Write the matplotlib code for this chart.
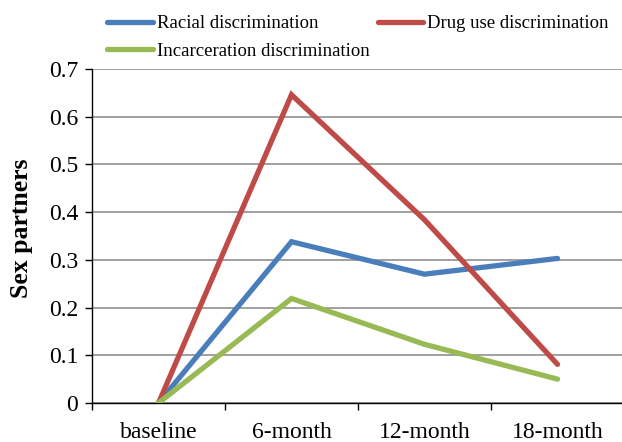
import matplotlib
matplotlib.use("Agg")
import matplotlib.pyplot as plt
from matplotlib.ticker import FixedLocator

# time points and mean change in sex partners per discrimination type
timepoints = ["baseline", "6-month", "12-month", "18-month"]
racial = [0.0, 0.338, 0.270, 0.303]
drug_use = [0.0, 0.646, 0.384, 0.081]
incarceration = [0.0, 0.219, 0.123, 0.050]

series_names = ["Racial discrimination", "Drug use discrimination",
                "Incarceration discrimination"]
colors = ["#4A7EBB", "#BE4B48", "#98B954"]

plt.rcParams["font.family"] = ["Liberation Serif", "DejaVu Serif"]

fig = plt.figure(figsize=(6.22, 4.42), dpi=100)
W, H = 622, 442
ax = fig.add_axes([92 / W, (H - 403) / H, 532 / W, (403 - 69) / H])

x = [i + 0.5 for i in range(len(timepoints))]
handles = []
for vals, name, c in zip([racial, drug_use, incarceration], series_names, colors):
    h, = ax.plot(x, vals, color=c, lw=3.8, solid_capstyle="round",
                 solid_joinstyle="miter", label=name, zorder=3)
    handles.append(h)

ax.set_xlim(0, len(timepoints))
ax.set_ylim(0, 0.7)
ax.set_yticks([i / 10 for i in range(8)])
ax.set_yticklabels(["0"] + [f"{i / 10:.1f}" for i in range(1, 8)])
ax.xaxis.set_major_locator(FixedLocator(range(len(timepoints) + 1)))
ax.xaxis.set_minor_locator(FixedLocator(x))
ax.set_xticklabels([])
ax.set_xticklabels(timepoints, minor=True)
ax.tick_params(axis="x", which="minor", length=0, pad=14, labelsize=17)
ax.tick_params(axis="x", which="major", direction="out", length=5, width=1)
ax.tick_params(axis="y", direction="out", length=5, width=1, pad=5, labelsize=17)

ax.grid(axis="y", color="#868686", lw=1.1, zorder=1)
ax.set_axisbelow(True)
for s in ["top", "right"]:
    ax.spines[s].set_visible(False)
ax.spines["left"].set_linewidth(1)
ax.spines["bottom"].set_linewidth(1)

ax.set_ylabel("Sex partners", fontsize=18.5, fontweight="bold")
ax.yaxis.set_label_coords(-59 / 532, (403 - 228) / 334)

# legend rows: Racial / Drug use on top, Incarceration below
fig.legend([handles[0], handles[2], handles[1]],
           [series_names[0], series_names[2], series_names[1]],
           ncol=2, loc="upper left", bbox_to_anchor=(107 / W, 1 - 15 / H),
           frameon=False, fontsize=13.5, handlelength=2.45, handletextpad=0.2,
           columnspacing=0.43, labelspacing=0.56, borderpad=0,
           borderaxespad=0)

fig.savefig("out.png", dpi=100)
